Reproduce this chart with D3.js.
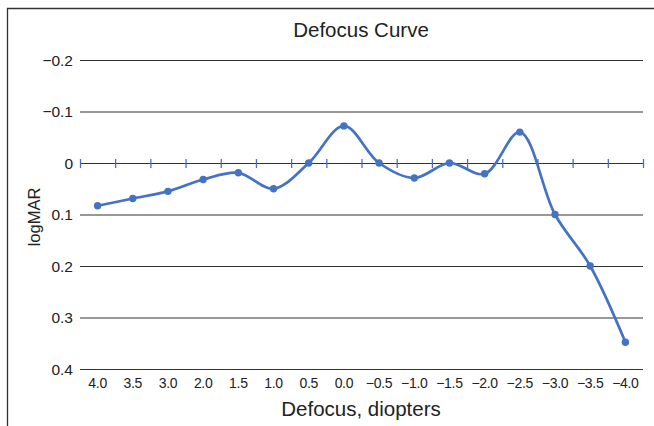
<!DOCTYPE html>
<html>
<head>
<meta charset="utf-8">
<script src="https://cdn.jsdelivr.net/npm/d3@7"></script>
<style>
  html, body { margin: 0; padding: 0; background: #fff; }
  svg { display: block; }
  text { font-family: "Liberation Sans", Arial, sans-serif; fill: #222; }
</style>
</head>
<body>
<svg id="chart" width="654" height="426"></svg>
<script>
const categories = ["4.0", "3.5", "3.0", "2.0", "1.5", "1.0", "0.5", "0.0", "\u22120.5", "\u22121.0", "\u22121.5", "\u22122.0", "\u22122.5", "\u22123.0", "\u22123.5", "\u22124.0"];
const logMAR = [0.083, 0.069, 0.055, 0.032, 0.019, 0.050, 0.0, -0.072, 0.0, 0.029, 0.0, 0.021, -0.060, 0.100, 0.200, 0.348];
const yTicks = [-0.2, -0.1, 0, 0.1, 0.2, 0.3, 0.4];
const yTickLabels = ["\u22120.2", "\u22120.1", "0", "0.1", "0.2", "0.3", "0.4"];
const title = "Defocus Curve";
const xTitle = "Defocus, diopters";
const yTitle = "logMAR";

const svg = d3.select("#chart");
const W = 654, H = 426;
const m = { left: 80, right: 11, top: 60, bottom: 57 };
const plotR = W - m.right, plotB = H - m.bottom;

// frame (top and left edges)
svg.append("path")
  .attr("d", `M7.5,426 L7.5,8.5 L654,8.5`)
  .attr("fill", "none").attr("stroke", "#333").attr("stroke-width", 1.3);

const x = d3.scaleBand().domain(categories).range([m.left, plotR]);
const y = d3.scaleLinear().domain([-0.2, 0.4]).range([m.top, plotB]);

// gridlines
svg.append("g").selectAll("line").data(yTicks).join("line")
  .attr("x1", m.left).attr("x2", plotR)
  .attr("y1", d => y(d) + 0.5).attr("y2", d => y(d) + 0.5)
  .attr("stroke", "#333").attr("stroke-width", 1.2);

// y tick labels
svg.append("g").selectAll("text").data(yTicks).join("text")
  .attr("x", m.left - 7).attr("y", d => y(d) + 5.5)
  .attr("text-anchor", "end").attr("font-size", 15.5)
  .text((d, i) => yTickLabels[i]);

// zero axis with category tick marks
const tickPos = categories.map(c => x(c)).concat([plotR]);
svg.append("g").selectAll("line").data(tickPos).join("line")
  .attr("x1", d => d + 0.5).attr("x2", d => d + 0.5)
  .attr("y1", y(0) - 4).attr("y2", y(0) + 5)
  .attr("stroke", "#4a6fc0").attr("stroke-width", 1.3);

// x tick labels
svg.append("g").selectAll("text").data(categories).join("text")
  .attr("x", d => x(d) + x.bandwidth() / 2).attr("y", plotB + 19)
  .attr("text-anchor", "middle").attr("font-size", 14)
  .attr("letter-spacing", -0.3)
  .text(d => d);

// line
const line = d3.line()
  .x((d, i) => x(categories[i]) + x.bandwidth() / 2)
  .y(d => y(d))
  .curve(d3.curveCatmullRom.alpha(0.5));
svg.append("path").datum(logMAR)
  .attr("d", line).attr("fill", "none")
  .attr("stroke", "#4472c4").attr("stroke-width", 2.7);

svg.append("g").selectAll("circle").data(logMAR).join("circle")
  .attr("cx", (d, i) => x(categories[i]) + x.bandwidth() / 2)
  .attr("cy", d => y(d)).attr("r", 3.7)
  .attr("fill", "#4472c4");

// titles
svg.append("text").attr("x", 361).attr("y", 37)
  .attr("text-anchor", "middle").attr("font-size", 20.5).text(title);
svg.append("text").attr("x", 361).attr("y", 416)
  .attr("text-anchor", "middle").attr("font-size", 20.5).text(xTitle);
svg.append("text").attr("transform", `translate(40,217) rotate(-90)`)
  .attr("text-anchor", "middle").attr("font-size", 16.5).text(yTitle);
</script>
</body>
</html>
